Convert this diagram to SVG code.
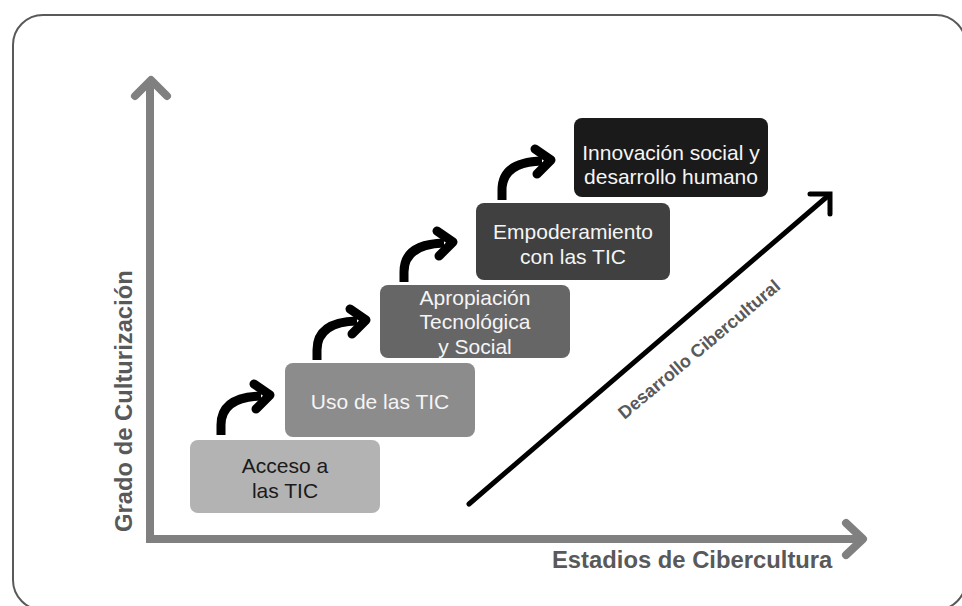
<svg xmlns="http://www.w3.org/2000/svg" width="962" height="606" viewBox="0 0 962 606">
<style>
.box text{font-family:"Liberation Sans",Arial,sans-serif;font-size:21px;text-anchor:middle}
.lt{fill:#f5f5f5}
.axlbl{font-family:"Liberation Sans",Arial,sans-serif;font-weight:bold;font-size:23.8px;fill:#595959}
.ax{fill:none;stroke:#808080;stroke-width:8;stroke-linecap:round;stroke-linejoin:round}
.step{fill:none;stroke:#000;stroke-width:9}
.head{fill:none;stroke:#000;stroke-width:9;stroke-linejoin:round;stroke-linecap:round}
</style>
<defs>
<g id="stepArrow">
<path class="step" d="M0,0 V-10 Q0,-38 40,-39"/>
<polyline class="head" points="33,-51 49,-40 35,-26"/>
</g>
</defs>
<rect x="13" y="15" width="953" height="595" rx="30" ry="30" fill="#fff" stroke="#595959" stroke-width="2"/>

<g id="axes">
<path class="ax" d="M150,82 V539 H862" style="stroke-linejoin:miter;stroke-linecap:butt"/>
<polyline class="ax" points="135,96 151,80 167,96"/>
<polyline class="ax" points="846,523 863,539 846,555"/>
<text class="axlbl" x="552" y="568">Estadios de Cibercultura</text>
<text class="axlbl" transform="translate(132,532) rotate(-90)">Grado de Culturización</text>
</g>

<g id="connectors">
<use href="#stepArrow" x="221" y="435"/>
<use href="#stepArrow" x="317" y="360"/>
<use href="#stepArrow" x="404" y="282"/>
<use href="#stepArrow" x="502" y="200"/>
<line x1="469" y1="504" x2="829" y2="195" stroke="#000" stroke-width="5" stroke-linecap="round"/>
<polyline points="810,194 830,194 830,214" fill="none" stroke="#000" stroke-width="5" stroke-linecap="round" stroke-linejoin="miter"/>
<text transform="translate(703,354) rotate(-40)" text-anchor="middle" font-family="'Liberation Sans',Arial,sans-serif" font-weight="bold" font-size="18" fill="#595959">Desarrollo Cibercultural</text>
</g>

<g id="n1" class="box">
<rect x="190" y="440" width="190" height="73" rx="8" fill="#b3b3b3"/>
<text x="285" y="473" fill="#1a1a1a">Acceso a</text>
<text x="285" y="498" fill="#1a1a1a">las TIC</text>
</g>
<g id="n2" class="box">
<rect x="285" y="363" width="190" height="74" rx="8" fill="#8c8c8c"/>
<text class="lt" x="380" y="409">Uso de las TIC</text>
</g>
<g id="n3" class="box">
<rect x="380" y="285" width="190" height="73" rx="8" fill="#666666"/>
<text class="lt" x="475" y="305">Apropiación</text>
<text class="lt" x="475" y="329">Tecnológica</text>
<text class="lt" x="475" y="354">y Social</text>
</g>
<g id="n4" class="box">
<rect x="476" y="203" width="194" height="77" rx="8" fill="#404040"/>
<text class="lt" x="573" y="239">Empoderamiento</text>
<text class="lt" x="573" y="264">con las TIC</text>
</g>
<g id="n5" class="box">
<rect x="574" y="118" width="194" height="79" rx="8" fill="#1a1a1a"/>
<text class="lt" x="671" y="160">Innovación social y</text>
<text class="lt" x="671" y="184">desarrollo humano</text>
</g>
</svg>
